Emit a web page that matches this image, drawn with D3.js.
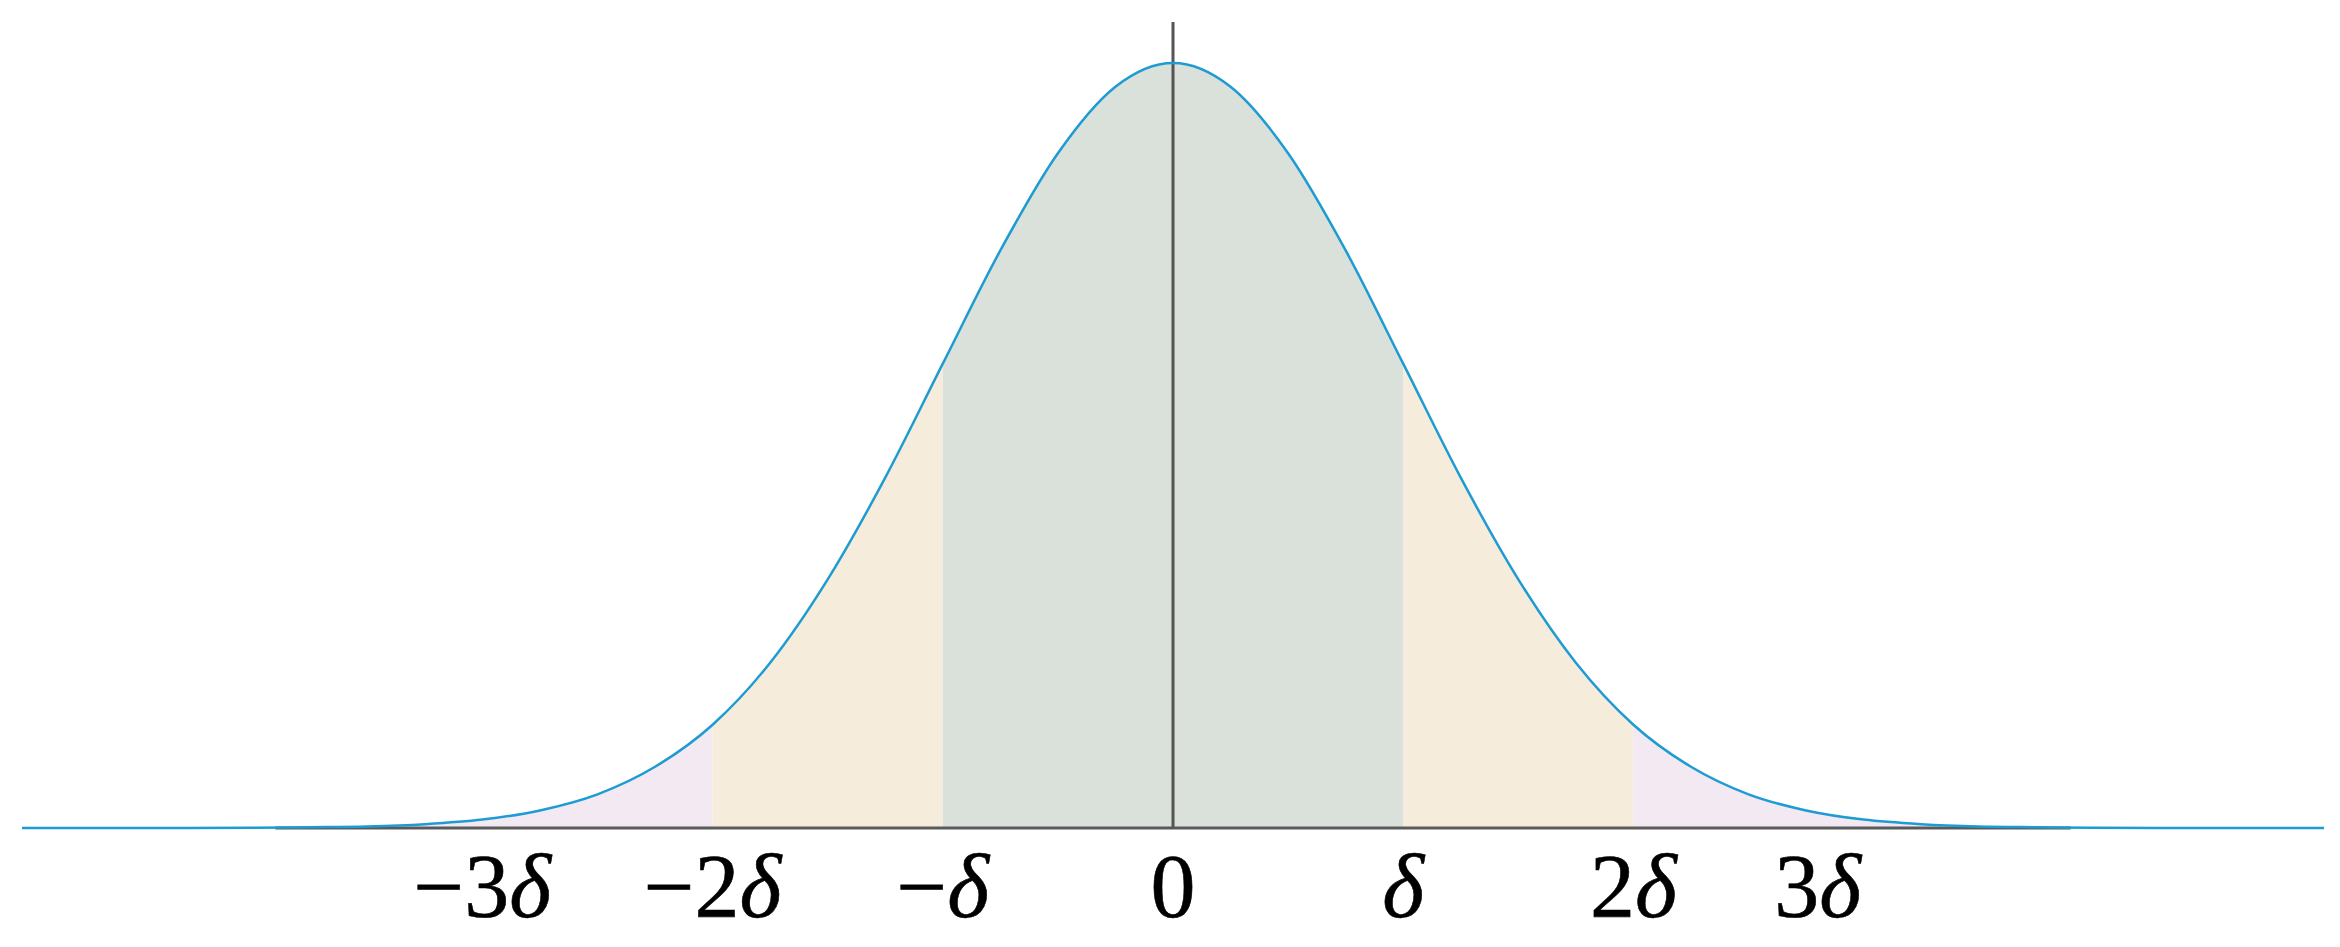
<!DOCTYPE html>
<html>
<head>
<meta charset="utf-8">
<script src="https://cdn.jsdelivr.net/npm/d3@7"></script>
<style>
  body { margin: 0; background: #fff; }
  svg { display: block; }
</style>
</head>
<body>
<div id="chart"></div>
<script>
const config = {
    width: 2340,
    height: 947,
    left: 22,
    right: 2324,
    base: 828,
    peak: 63
};

// curve heights, relative to the peak (in units of delta)
const curveX = [-5, -4.5, -4, -3.75, -3.5, -3.25, -3, -2.75, -2.5, -2.25, -2, -1.75, -1.5, -1.25, -1, -0.75, -0.5, -0.25,
    0, 0.25, 0.5, 0.75, 1, 1.25, 1.5, 1.75, 2, 2.25, 2.5, 2.75, 3, 3.25, 3.5, 3.75, 4, 4.5, 5];
const curveY = [0, 0, 0.0003, 0.001, 0.002, 0.005, 0.011, 0.023, 0.044, 0.08, 0.135, 0.216, 0.325, 0.458, 0.607, 0.755, 0.882, 0.969,
    1.0, 0.969, 0.882, 0.755, 0.607, 0.458, 0.325, 0.216, 0.135, 0.08, 0.044, 0.023, 0.011, 0.005, 0.002, 0.001, 0.0003, 0, 0];

// shaded bands [from, to, colour]
const bandFrom = [-4.5, -2, -1, 1, 2];
const bandTo = [-2, -1, 1, 2, 4.5];
const bandColor = ['#f3e9f2', '#f6ecdc', '#d9e1da', '#f6ecdc', '#f3e9f2'];

const tickLabels = ['\u22123', '\u22122', '\u2212', '0', '', '2', '3'];
const tickDelta = [true, true, true, false, true, true, true];
const tickPos = [-3, -2, -1, 0, 1, 2, 2.8];

const axisExtent = [-3.9, 3.9];

const points = curveX.map((x, i) => ({ x: x, y: curveY[i] }));

const svg = d3.select('#chart')
    .append('svg')
    .attr('width', config.width)
    .attr('height', config.height);

const xScale = d3.scaleLinear()
    .domain([-5, 5])
    .range([config.left, config.right]);

const yScale = d3.scaleLinear()
    .domain([0, 1])
    .range([config.base, config.peak]);

const area = d3.area()
    .curve(d3.curveMonotoneX)
    .x(d => xScale(d.x))
    .y0(yScale(0))
    .y1(d => yScale(d.y));

const line = d3.line()
    .curve(d3.curveMonotoneX)
    .x(d => xScale(d.x))
    .y(d => yScale(d.y));

const defs = svg.append('defs');

bandFrom.forEach((a, i) => {
    const b = bandTo[i];
    defs.append('clipPath')
        .attr('id', `band-${i}`)
        .append('rect')
        .attr('x', xScale(a))
        .attr('width', xScale(b) - xScale(a))
        .attr('y', 0)
        .attr('height', config.height);

    svg.append('path')
        .datum(points)
        .attr('clip-path', `url(#band-${i})`)
        .attr('fill', bandColor[i])
        .attr('d', area);
});

// horizontal axis
svg.append('line')
    .attr('x1', xScale(axisExtent[0]))
    .attr('x2', xScale(axisExtent[1]))
    .attr('y1', yScale(0))
    .attr('y2', yScale(0))
    .attr('stroke', '#5a5a5a')
    .attr('stroke-width', 3);

// vertical axis at zero
svg.append('line')
    .attr('x1', xScale(0))
    .attr('x2', xScale(0))
    .attr('y1', 22)
    .attr('y2', yScale(0))
    .attr('stroke', '#555')
    .attr('stroke-width', 3);

svg.append('path')
    .datum(points)
    .attr('fill', 'none')
    .attr('stroke', '#1e9bd3')
    .attr('stroke-width', 2.5)
    .attr('d', line);

const labels = svg.append('g')
    .attr('font-family', '"Liberation Serif", "Times New Roman", Times, serif')
    .attr('font-size', 90)
    .attr('fill', '#000')
    .attr('stroke', '#000')
    .attr('stroke-width', 0.6);

tickPos.forEach((p, i) => {
    const t = labels.append('text')
        .attr('x', xScale(p))
        .attr('y', 917)
        .attr('text-anchor', 'middle');
    if (tickLabels[i]) t.append('tspan').text(tickLabels[i]);
    if (tickDelta[i]) t.append('tspan').attr('font-style', 'italic').text('\u03b4');
});
</script>
</body>
</html>
